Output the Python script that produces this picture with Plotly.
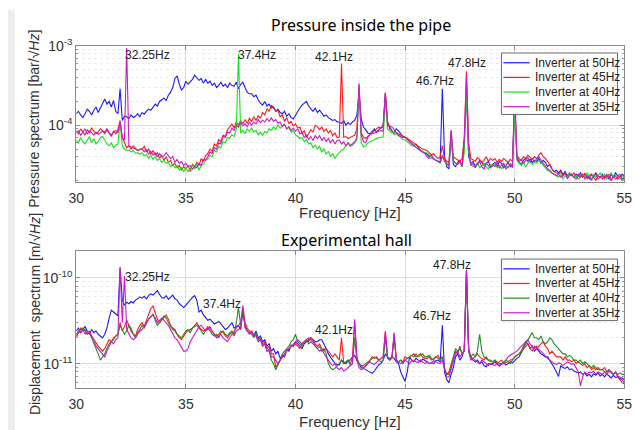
import plotly.graph_objects as go

# ---------------- data ----------------
freq_hz = [round(30 + 0.1 * i, 1) for i in range(251)]

# Pressure spectrum, units of 1e-6 bar/sqrt(Hz)
p_50 = [
    140, 150, 135, 125, 140, 160, 150, 135, 155, 170,
    145, 165, 190, 215, 185, 200, 170, 205, 150, 140,
    290, 115, 130, 128, 122, 135, 125, 130, 140, 128,
    145, 138, 150, 160, 155, 170, 185, 175, 200, 210,
    220, 205, 240, 260, 300, 390, 420, 330, 280, 300,
    360, 330, 350, 380, 430, 400, 370, 390, 340, 380,
    340, 360, 320, 340, 300, 320, 350, 310, 330, 300,
    340, 320, 310, 350, 290, 330, 350, 300, 260, 250,
    250, 230, 240, 210, 190, 180, 200, 175, 185, 165,
    170, 150, 160, 145, 140, 150, 130, 140, 125, 120,
    135, 150, 165, 180, 190, 200, 175, 160, 150, 165,
    145, 155, 140, 130, 135, 125, 120, 115, 118, 110,
    110, 105, 115, 100, 108, 102, 110, 115, 135, 250,
    120, 95, 88, 80, 78, 85, 90, 82, 88, 95,
    100, 250, 110, 95, 85, 80, 90, 85, 78, 72,
    70, 68, 62, 58, 55, 58, 52, 48, 46, 45,
    43, 40, 42, 38, 36, 35, 34, 290, 40, 30,
    28, 75, 32, 30, 34, 36, 30, 60, 250, 40,
    33, 35, 30, 32, 36, 34, 31, 33, 35, 30,
    32, 34, 30, 35, 33, 29, 31, 34, 30, 33,
    200, 38, 34, 32, 36, 38, 35, 37, 34, 36,
    35, 38, 33, 36, 34, 30, 32, 28, 26, 27,
    25, 27, 24, 26, 23, 25, 24, 22, 24, 23,
    25, 22, 24, 23, 21, 24, 22, 25, 23, 22,
    24, 22, 23, 21, 24, 22, 25, 23, 22, 24,
    23]
p_45 = [
    85, 78, 90, 82, 75, 88, 80, 92, 85, 78,
    82, 90, 85, 78, 88, 80, 72, 85, 78, 88,
    115, 70, 60, 52, 55, 50, 55, 52, 48, 50,
    50, 54, 46, 50, 43, 48, 42, 45, 38, 42,
    36, 40, 34, 36, 31, 33, 29, 31, 27, 30,
    28, 31, 26, 32, 30, 34, 31, 38, 35, 41,
    44, 50, 47, 58, 55, 66, 62, 75, 72, 88,
    95, 104, 92, 110, 100, 115, 104, 118, 106, 122,
    112, 128, 115, 132, 122, 145, 135, 162, 150, 180,
    165, 150, 155, 128, 135, 112, 125, 105, 112, 98,
    104, 92, 95, 80, 85, 70, 78, 88, 82, 100,
    96, 88, 95, 84, 90, 80, 86, 74, 80, 70,
    71, 600, 70, 72, 68, 70, 72, 75, 90, 320,
    80, 71, 68, 72, 78, 82, 85, 90, 95, 92,
    95, 255, 110, 90, 85, 77, 80, 78, 75, 73,
    71, 68, 65, 62, 60, 58, 55, 52, 50, 49,
    48, 45, 42, 44, 40, 38, 40, 55, 38, 35,
    34, 87, 40, 38, 36, 35, 38, 70, 480, 60,
    38, 36, 35, 39, 37, 34, 36, 40, 35, 38,
    36, 38, 34, 37, 35, 38, 36, 34, 37, 35,
    180, 42, 38, 36, 40, 38, 42, 39, 37, 40,
    38, 42, 45, 40, 38, 35, 32, 28, 26, 25,
    24, 26, 23, 25, 22, 24, 23, 25, 22, 24,
    23, 22, 25, 21, 23, 24, 22, 20, 23, 22,
    21, 23, 22, 24, 20, 22, 23, 21, 22, 20,
    22]
p_40 = [
    65, 60, 70, 62, 58, 66, 72, 60, 68, 58,
    62, 70, 72, 65, 58, 55, 60, 52, 56, 58,
    110, 55, 50, 48, 49, 46, 48, 44, 45, 43,
    45, 41, 43, 38, 42, 37, 40, 36, 38, 34,
    36, 33, 34, 30, 32, 29, 31, 27, 29, 26,
    29, 26, 28, 31, 28, 32, 27, 31, 32, 36,
    37, 42, 40, 48, 46, 54, 52, 62, 60, 70,
    68, 76, 72, 88, 800, 80, 86, 78, 90, 84,
    92, 82, 86, 76, 82, 74, 84, 80, 90, 86,
    96, 88, 102, 92, 98, 104, 90, 94, 82, 86,
    76, 72, 68, 70, 62, 66, 58, 60, 52, 56,
    50, 54, 46, 50, 43, 47, 40, 44, 38, 42,
    45, 48, 50, 55, 58, 58, 56, 60, 65, 280,
    60, 53, 55, 60, 62, 65, 66, 68, 70, 71,
    71, 220, 90, 85, 80, 82, 78, 75, 70, 66,
    65, 62, 58, 55, 55, 52, 50, 48, 46, 45,
    45, 42, 40, 38, 36, 35, 33, 40, 36, 32,
    31, 75, 35, 33, 32, 34, 30, 45, 300, 45,
    32, 30, 31, 34, 29, 31, 33, 30, 28, 32,
    30, 33, 29, 31, 28, 32, 30, 29, 33, 31,
    170, 36, 33, 31, 34, 30, 33, 35, 32, 34,
    33, 36, 34, 31, 29, 27, 26, 25, 24, 23,
    22, 24, 21, 23, 22, 25, 24, 22, 23, 21,
    22, 24, 22, 25, 23, 21, 24, 22, 23, 25,
    22, 24, 21, 23, 25, 22, 23, 24, 21, 23,
    22]
p_35 = [
    80, 85, 75, 82, 90, 78, 85, 80, 75, 82,
    77, 80, 85, 82, 90, 80, 75, 82, 86, 80,
    110, 70, 65, 950, 55, 53, 52, 50, 48, 49,
    50, 46, 49, 43, 47, 42, 45, 40, 44, 40,
    41, 45, 42, 38, 40, 34, 37, 33, 35, 31,
    33, 30, 31, 28, 30, 29, 33, 31, 37, 36,
    40, 46, 44, 52, 50, 60, 58, 72, 70, 82,
    80, 92, 86, 100, 95, 108, 98, 104, 96, 110,
    100, 110, 104, 118, 108, 116, 110, 122, 112, 124,
    112, 118, 106, 110, 96, 102, 90, 96, 86, 92,
    84, 90, 78, 80, 70, 75, 66, 72, 64, 74,
    68, 74, 64, 70, 62, 68, 60, 66, 58, 64,
    65, 58, 62, 55, 60, 54, 58, 62, 70, 340,
    75, 62, 60, 70, 77, 78, 80, 82, 84, 85,
    85, 260, 100, 98, 95, 88, 80, 75, 72, 70,
    70, 66, 62, 58, 55, 52, 50, 48, 46, 44,
    40, 38, 39, 37, 36, 35, 34, 42, 35, 33,
    31, 85, 36, 33, 32, 35, 30, 65, 420, 50,
    31, 33, 29, 32, 35, 30, 28, 33, 31, 29,
    32, 30, 34, 29, 31, 33, 28, 30, 32, 29,
    350, 40, 35, 37, 33, 36, 39, 34, 38, 35,
    37, 40, 36, 33, 30, 28, 27, 25, 24, 23,
    24, 22, 23, 25, 21, 23, 24, 22, 21, 23,
    22, 24, 21, 23, 22, 20, 23, 24, 21, 22,
    23, 21, 24, 22, 20, 23, 21, 22, 24, 21,
    22]

# Displacement spectrum, units of 1e-12 m/sqrt(Hz)
d_50 = [
    24, 26, 23, 25, 27, 24, 22, 25, 23, 24,
    22, 21, 20, 22, 26, 34, 42, 40, 38, 36,
    130, 55, 48, 52, 50, 53, 51, 55, 57, 60,
    58, 61, 57, 62, 65, 63, 67, 71, 64, 59,
    58, 62, 56, 60, 63, 57, 55, 50, 47, 45,
    48, 52, 55, 59, 62, 55, 40, 42, 37, 34,
    32, 33, 31, 29, 30, 31, 29, 27, 25, 26,
    28, 30, 26, 27, 28, 25, 40, 28, 24, 23,
    23, 21, 24, 20, 21, 18, 19, 16, 17, 14,
    15, 13, 14, 11.5, 12.5, 12, 14.5, 14, 16.5, 16,
    18, 17, 16, 15, 17, 18, 19, 20, 19, 18,
    18, 19, 19, 17, 15, 13, 12, 11, 10, 9.8,
    9.7, 11, 10.5, 10, 10.8, 11, 12, 12.5, 11, 10,
    9, 8.8, 8.5, 8.2, 7.8, 7.7, 8.2, 9, 9.7, 10,
    11, 13, 12, 11, 12, 11.5, 10.5, 10, 8, 7,
    6.2, 8, 12, 11, 10.5, 11.5, 11, 10.5, 11.3, 11,
    10.5, 10, 10.3, 10, 10.8, 11, 10.5, 28, 8, 6.5,
    6, 7.5, 9, 12, 13, 11, 12, 15, 120, 14,
    11.5, 11, 10.5, 11, 10, 10.5, 9.5, 9.2, 10, 9.8,
    10, 10.5, 9.8, 9.5, 10, 10.2, 9.6, 10, 10.5, 10.2,
    11, 11.5, 12, 13.5, 15, 18, 17, 15, 16, 14,
    15, 14, 13, 12.5, 12, 12, 11, 10, 9, 8,
    7.1, 9.5, 9, 8.8, 9.2, 8.5, 8.7, 8.2, 8, 7.8,
    8, 7.5, 7.8, 7.2, 7.5, 7, 7.6, 7.3, 7.8, 7.2,
    7.5, 7, 7.6, 7.2, 6.8, 7.3, 6.9, 7, 6.6, 6.8,
    6.5]
d_45 = [
    20, 23, 26, 24, 25, 22, 24, 21, 19, 17,
    16, 15, 14, 15, 17, 19, 18, 20, 21, 22,
    30, 24, 27, 32, 28, 24, 22, 21, 25, 28,
    30, 27, 32, 38, 44, 47, 40, 33, 30, 32,
    35, 37, 33, 28, 26, 25, 22, 20, 19, 21,
    23, 24, 25, 26, 28, 30, 27, 25, 24, 25,
    27, 25, 23, 22, 21, 22, 24, 23, 21, 20,
    22, 23, 21, 24, 25, 26, 45, 30, 26, 24,
    24, 21, 22, 19, 20, 17, 18, 15, 16, 13,
    13, 9, 10, 11, 12, 13, 14, 15, 16, 16,
    17, 16, 15, 17, 18, 19, 18, 20, 19, 17,
    16, 17, 15, 14, 15, 14, 13, 12, 13, 12,
    11, 20, 10, 10.5, 11, 10, 11.5, 31, 12, 10,
    9.5, 9, 9.5, 10, 11, 12, 11.5, 12, 11, 11.5,
    12, 23, 12, 11.5, 12, 22, 11, 10.5, 11, 10.5,
    12, 11.5, 12, 12.5, 13, 12, 12.5, 13, 12, 11.5,
    11.5, 12, 11, 11.5, 12, 12.5, 11, 12, 9, 7.5,
    8, 10, 12, 14, 13, 16, 13, 14, 120, 15,
    12, 11.5, 12, 13, 12, 11.5, 11, 12, 11, 10.5,
    10.5, 11, 10, 10.5, 11, 10, 10.3, 10.8, 11, 11.2,
    12, 12.5, 13, 14, 15, 16, 17, 15, 14, 16,
    15, 16, 17, 18, 16, 15, 13, 14, 13, 12,
    12, 12, 11, 12, 11, 11, 10.5, 11, 10, 10.5,
    10, 9.5, 10, 9, 9.5, 8.5, 9, 8.5, 9, 8.5,
    8.5, 9, 8, 8.5, 8, 7.5, 8, 7, 6.5, 6,
    5.8]
d_40 = [
    21, 24, 25, 26, 24, 22, 23, 20, 18, 15,
    13, 11, 12, 13, 15, 17, 18, 19, 21, 22,
    28, 25, 22, 24, 28, 26, 22, 20, 23, 25,
    28, 26, 30, 33, 35, 38, 32, 28, 30, 33,
    36, 34, 30, 27, 25, 24, 22, 21, 20, 22,
    24, 25, 23, 26, 27, 28, 26, 24, 22, 24,
    26, 24, 22, 21, 22, 20, 23, 24, 22, 21,
    23, 24, 22, 30, 45, 28, 42, 27, 24, 23,
    22, 20, 23, 19, 20, 16, 17, 14, 14, 11,
    10, 8.5, 9.5, 11, 13, 14, 15, 16, 18, 19,
    22, 18, 17, 16, 18, 19, 17, 18, 17, 16,
    15, 16, 14, 15, 13, 10, 9, 8.5, 8.8, 9.5,
    10, 11, 10, 10.5, 11, 9.5, 10, 20, 11, 10,
    9.5, 9.5, 10, 10.5, 11, 11.5, 12, 11.5, 11, 10.5,
    11, 20, 11.5, 11, 12, 20, 11, 10.5, 11, 10,
    11, 11.5, 12, 12.5, 12, 13, 12, 12.5, 13, 12,
    12, 12.5, 11.5, 11, 12, 11.5, 11, 12, 8.5, 7.5,
    7.5, 9, 12, 15, 14, 15, 13, 14, 115, 14,
    12, 13, 12, 14, 22, 14, 12, 11.5, 11, 11,
    10.5, 11, 10.5, 10, 10, 10.5, 11, 10.5, 10, 11,
    12, 12.5, 13, 14, 16, 17, 19, 21, 23, 20,
    20, 19, 21, 18, 17, 18, 20, 19, 17, 16,
    15, 14, 13, 13, 12, 12.5, 12, 11, 11, 10.5,
    11, 10, 10.5, 10, 9.5, 9, 9.5, 9, 8.5, 8.5,
    8.5, 8, 8, 8.5, 8, 7.5, 8, 7.5, 7.8, 7.5,
    7.5]
d_35 = [
    22, 24, 23, 25, 22, 24, 23, 21, 19, 16,
    15, 14, 13, 12, 14, 16, 18, 17, 19, 20,
    135, 30, 105, 25, 22, 20, 19, 20, 22, 24,
    25, 27, 30, 33, 35, 37, 34, 30, 32, 34,
    32, 30, 28, 25, 22, 20, 19, 17, 15, 14,
    14, 15, 18, 20, 22, 24, 27, 28, 26, 24,
    25, 27, 24, 22, 20, 21, 22, 20, 19, 18,
    20, 22, 24, 26, 28, 30, 48, 26, 24, 22,
    24, 21, 21, 18, 19, 16, 17, 14, 15, 12,
    12, 11, 10, 11, 12, 13, 14, 15, 16, 17,
    18, 19, 18, 17, 18, 19, 20, 19, 18, 16,
    15, 14, 14.5, 13, 12, 11, 10, 9.5, 10, 9,
    8.5, 9, 8.2, 8.5, 9, 9.5, 10, 33, 11, 9,
    8.5, 8.8, 9.5, 10, 10.5, 10, 9.8, 10.5, 11, 11.5,
    12, 24, 12, 11, 11.5, 23, 11, 10.5, 10, 10.5,
    11, 10.5, 10, 10.8, 11, 10.5, 10.3, 11, 10.5, 10,
    10.5, 10, 10.2, 10.8, 10.5, 10.3, 10, 11, 9, 7,
    7, 8.5, 11, 13, 14, 12, 13, 14, 125, 14,
    11, 11.5, 11, 10.5, 10, 11, 10.5, 10, 9.5, 10,
    9.8, 9.5, 10, 9.3, 9.8, 10, 11, 12, 12.5, 13,
    13.5, 14, 15, 16, 17, 18, 19, 17, 16, 15,
    16, 14.5, 14, 13, 12, 11.5, 11, 10.5, 10, 9.8,
    10.2, 10, 9.5, 10, 10.5, 10.2, 9.8, 10, 9, 8,
    5.5, 7, 8, 7.5, 8, 7.8, 8.2, 7.5, 8, 7.8,
    7.5, 8, 7.5, 8.2, 7.8, 7.5, 8, 7.2, 7, 6.5,
    6]

series_names = ["Inverter at 50Hz", "Inverter at 45Hz", "Inverter at 40Hz", "Inverter at 35Hz"]
top_labels = [("32.25Hz", 143, 46), ("37.4Hz", 255, 46), ("42.1Hz", 334, 48),
              ("46.7Hz", 438, 73), ("47.8Hz", 471, 54)]
bot_labels = [("32.25Hz", 143, 273), ("37.4Hz", 219, 301), ("42.1Hz", 334, 328),
              ("46.7Hz", 435, 313), ("47.8Hz", 455, 261)]

# ---------------- style ----------------
W, H = 644, 430
def px(x): return x / W
def py(y): return 1 - y / H

top_colors = ["#1a1aff", "#ff1a1a", "#19e019", "#cc1acc"]
bot_colors = ["#1a1aff", "#ff1a1a", "#1f8f1f", "#cc1acc"]
FONT = "Liberation Sans, Arial, sans-serif"

fig = go.Figure()
for name, vals, col in zip(series_names, [p_50, p_45, p_40, p_35], top_colors):
    assert len(vals) == len(freq_hz)
    fig.add_trace(go.Scatter(x=freq_hz, y=[v * 1e-6 for v in vals], mode="lines",
                             name=name, line=dict(color=col, width=1.1),
                             xaxis="x", yaxis="y", showlegend=False))
for name, vals, col in zip(series_names, [d_50, d_45, d_40, d_35], bot_colors):
    assert len(vals) == len(freq_hz)
    fig.add_trace(go.Scatter(x=freq_hz, y=[v * 1e-12 for v in vals], mode="lines",
                             name=name, line=dict(color=col, width=1.1),
                             xaxis="x2", yaxis="y2", showlegend=False))

xdom = [px(70), px(632)]
axis_common = dict(showline=True, linecolor="#8a8a8a", linewidth=1, mirror="ticks",
                   ticks="inside", ticklen=4, tickcolor="#8a8a8a",
                   tickfont=dict(family=FONT, size=14, color="#333333"),
                   gridcolor="#dedede", gridwidth=1, zeroline=False)
xcommon = dict(axis_common, range=[30, 55], tickvals=[30, 35, 40, 45, 50, 55],
               showgrid=True, ticklabelstandoff=3)

top_minor = [k * 10 ** e for e in (-5, -4) for k in range(2, 10)]
bot_minor = [k * 10 ** e for e in (-12, -11) for k in range(2, 10)]

fig.update_layout(
    width=W, height=H, margin=dict(l=0, r=0, t=0, b=0),
    paper_bgcolor="white", plot_bgcolor="white", showlegend=False,
    xaxis=dict(xcommon, domain=xdom, anchor="y"),
    yaxis=dict(axis_common, type="log", domain=[py(176), py(37)], range=[-4.716, -3.0],
               tickvals=[1e-4, 1e-3], ticktext=["10<sup>-4</sup>", "10<sup>-3</sup>"],
               showgrid=True, anchor="x",
               minor=dict(tickvals=top_minor, showgrid=True, gridcolor="#ececec",
                          griddash="dot", ticks="inside", ticklen=2, tickcolor="#9a9a9a")),
    xaxis2=dict(xcommon, domain=xdom, anchor="y2"),
    yaxis2=dict(axis_common, type="log", domain=[py(387), py(247)], range=[-11.284, -9.69],
                tickvals=[1e-11, 1e-10], ticktext=["10<sup>-11</sup>", "10<sup>-10</sup>"],
                showgrid=True, anchor="x2",
                minor=dict(tickvals=bot_minor, showgrid=True, gridcolor="#ececec",
                           griddash="dot", ticks="inside", ticklen=2, tickcolor="#9a9a9a")),
)

def note(txt, x, y, size, color="#222222", family=FONT, angle=0, xanchor="center"):
    return dict(text=txt, x=px(x), y=py(y), xref="paper", yref="paper", showarrow=False,
                xanchor=xanchor, yanchor="middle", textangle=angle,
                font=dict(family=family, size=size, color=color))

ann = []
for txt, x, y in top_labels + bot_labels:
    ann.append(note(txt, x, y, 12))
ann += [
    note("Pressure inside the pipe", 362, 15, 16, "black", "Noto Sans"),
    note("Experimental hall", 347, 235, 16, "black", "Noto Sans"),
    note("Frequency [Hz]", 351, 207, 15, "#333333"),
    note("Frequency [Hz]", 351, 421, 15, "#333333"),
    note("Pressure spectrum [bar/\u221a<i>Hz</i>]", 27, 111, 14, "#333333", angle=-90),
    note("Displacement  spectrum [m/\u221a<i>Hz</i>]", 27, 311, 14, "#333333", angle=-90),
]

shapes = [dict(type="rect", xref="paper", yref="paper", x0=0, x1=px(7), y0=0, y1=1,
               fillcolor="#eeeeee", line=dict(width=0), layer="below")]

# manual legends (one per panel)
for (top, colors) in [(44, top_colors), (255, bot_colors)]:
    shapes.append(dict(type="rect", xref="paper", yref="paper",
                       x0=px(506), x1=px(625), y0=py(top + 63), y1=py(top),
                       fillcolor="white", line=dict(color="#6a6a6a", width=1), layer="above"))
    for k, (name, col) in enumerate(zip(series_names, colors)):
        yy = top + 10 + 15 * k
        shapes.append(dict(type="line", xref="paper", yref="paper",
                           x0=px(508), x1=px(535), y0=py(yy), y1=py(yy),
                           line=dict(color=col, width=1.2), layer="above"))
        ann.append(note(name, 538, yy, 12, "#222222", xanchor="left"))

fig.update_layout(annotations=ann, shapes=shapes)

fig.write_html("out.html", config={"displayModeBar": False},
               post_script="document.body.style.margin='0px';document.body.style.padding='0px';document.body.style.overflow='hidden';")
